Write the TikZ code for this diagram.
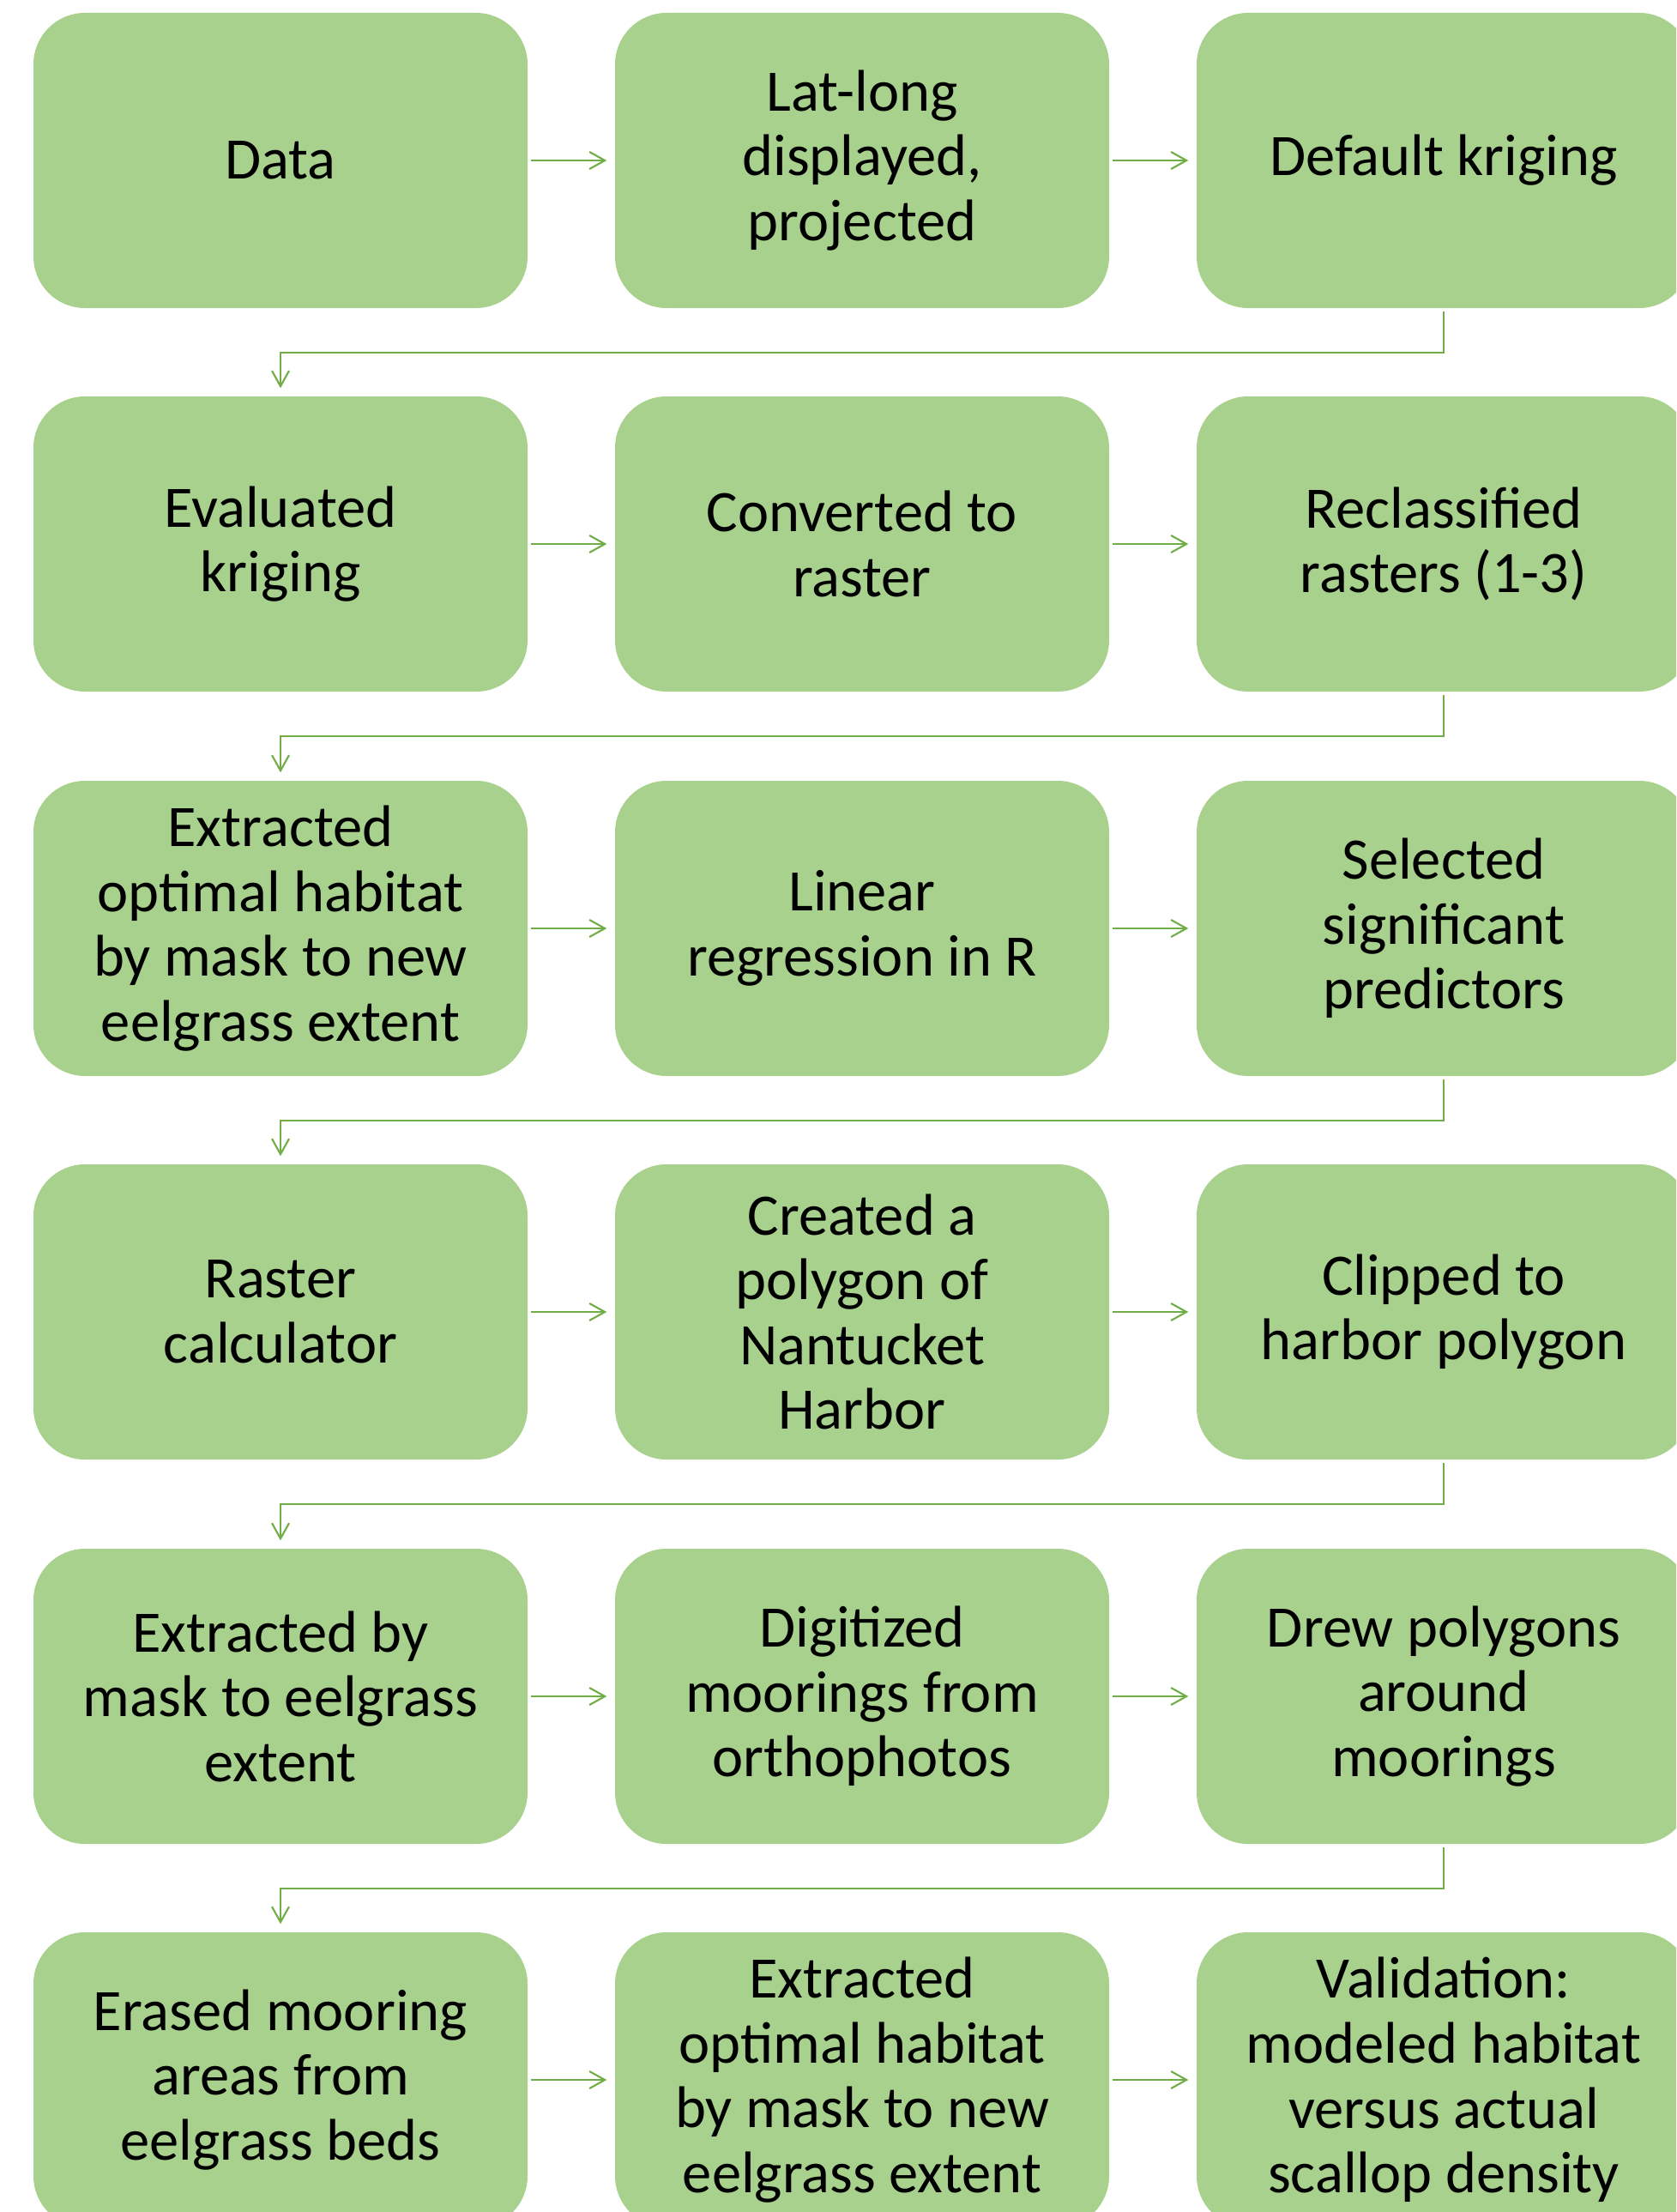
\documentclass[tikz,border=0pt]{standalone}
\usepackage{fontspec}
\setmainfont{Carlito}
\usetikzlibrary{arrows.meta}

\definecolor{boxgreen}{HTML}{A9D18E}
\definecolor{linegreen}{HTML}{70AD47}

\tikzset{
    stepbox/.style={fill=boxgreen, rounded corners=0.6cm, minimum width=5.76cm, minimum height=3.44cm, align=center, font=\fontsize{19.5}{21.5}\selectfont},
    link/.style={draw=linegreen, line width=0.6pt, -{Straight Barb[length=1.8mm, width=2mm]}, shorten <=0.03cm, shorten >=0.09cm}
}

\begin{document}
\begin{tikzpicture}
    % Page frame
    \useasboundingbox (0,0) rectangle (19.54,-25.78);
    \clip (0,0) rectangle (19.54,-25.78);

    % Row 1
    \node[stepbox] (data) at (3.27,-1.87) {Data};
    \node[stepbox] (latlong) at (10.05,-1.87) {Lat-long\\displayed,\\projected};
    \node[stepbox] (kriging) at (16.83,-1.87) {Default kriging};

    % Row 2
    \node[stepbox] (evaluated) at (3.27,-6.34) {Evaluated\\kriging};
    \node[stepbox] (converted) at (10.05,-6.34) {Converted to\\raster};
    \node[stepbox] (reclass) at (16.83,-6.34) {Reclassified\\rasters (1-3)};

    % Row 3
    \node[stepbox] (extracted) at (3.27,-10.82) {Extracted\\optimal habitat\\by mask to new\\eelgrass extent};
    \node[stepbox] (linreg) at (10.05,-10.82) {Linear\\regression in R};
    \node[stepbox] (selected) at (16.83,-10.82) {Selected\\significant\\predictors};

    % Row 4
    \node[stepbox] (rastercalc) at (3.27,-15.29) {Raster\\calculator};
    \node[stepbox] (polygon) at (10.05,-15.29) {Created a\\polygon of\\Nantucket\\Harbor};
    \node[stepbox] (clipped) at (16.83,-15.29) {Clipped to\\harbor polygon};

    % Row 5
    \node[stepbox] (maskext) at (3.27,-19.77) {Extracted by\\mask to eelgrass\\extent};
    \node[stepbox] (digitized) at (10.05,-19.77) {Digitized\\moorings from\\orthophotos};
    \node[stepbox] (drew) at (16.83,-19.77) {Drew polygons\\around\\moorings};

    % Row 6
    \node[stepbox] (erased) at (3.27,-24.24) {Erased mooring\\areas from\\eelgrass beds};
    \node[stepbox] (optimal) at (10.05,-24.24) {Extracted\\optimal habitat\\by mask to new\\eelgrass extent};
    \node[stepbox] (validation) at (16.83,-24.24) {Validation:\\modeled habitat\\versus actual\\scallop density};

    % Arrows along the rows
    \draw[link] (data) -- (latlong);
    \draw[link] (latlong) -- (kriging);
    \draw[link] (evaluated) -- (converted);
    \draw[link] (converted) -- (reclass);
    \draw[link] (extracted) -- (linreg);
    \draw[link] (linreg) -- (selected);
    \draw[link] (rastercalc) -- (polygon);
    \draw[link] (polygon) -- (clipped);
    \draw[link] (maskext) -- (digitized);
    \draw[link] (digitized) -- (drew);
    \draw[link] (erased) -- (optimal);
    \draw[link] (optimal) -- (validation);

    % Arrows from row to row
    \draw[link] (kriging.south) -- ++(0,-0.51) -| (evaluated.north);
    \draw[link] (reclass.south) -- ++(0,-0.51) -| (extracted.north);
    \draw[link] (selected.south) -- ++(0,-0.51) -| (rastercalc.north);
    \draw[link] (clipped.south) -- ++(0,-0.51) -| (maskext.north);
    \draw[link] (drew.south) -- ++(0,-0.51) -| (erased.north);
\end{tikzpicture}
\end{document}
